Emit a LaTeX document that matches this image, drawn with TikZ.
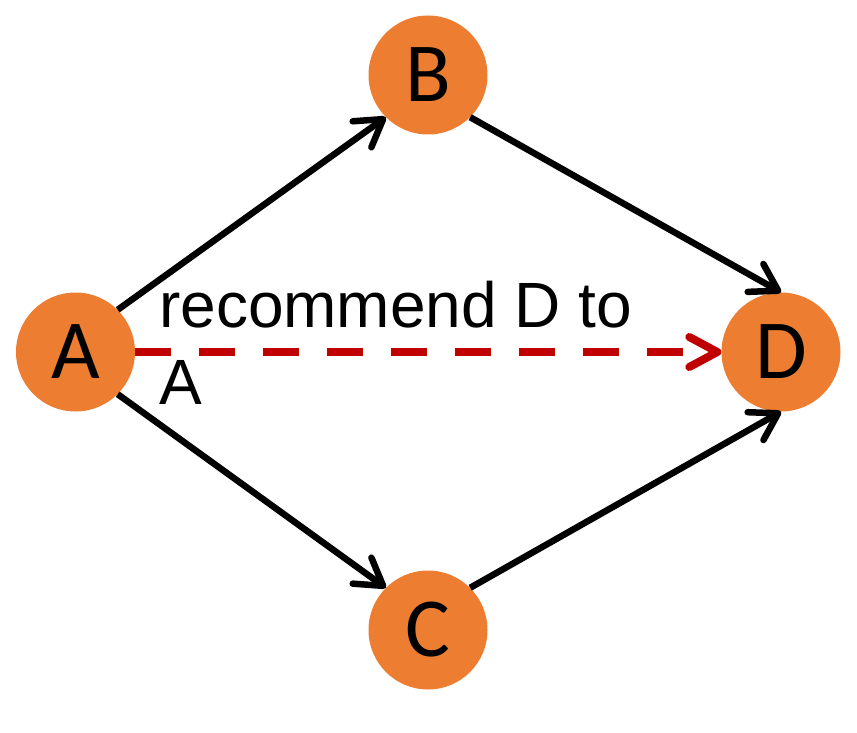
\documentclass[tikz,border=0pt]{standalone}
\usepackage{fontspec}
\setmainfont{Carlito}
\newfontfamily\labfont{Liberation Sans}
\usetikzlibrary{arrows.meta}
\definecolor{nodeorange}{HTML}{ED7D31}
\definecolor{recred}{HTML}{C00000}
\begin{document}
\begin{tikzpicture}[x=1pt,y=-1pt,
  vert/.style={circle, fill=nodeorange, inner sep=0pt, minimum size=119pt, font=\fontsize{84}{100}\selectfont},
  edge/.style={line width=6.5pt, -{Straight Barb[length=26pt,width=32pt,round]}},
  rec/.style={line width=8pt, draw=recred, dash pattern=on 36pt off 28pt, -{Straight Barb[length=28pt,width=30pt,round]}},
  lbl/.style={font=\labfont\fontsize{64}{77}\selectfont, align=left, inner sep=0pt, anchor=north west}]
\useasboundingbox (0,0) rectangle (857,733);
\node[vert] (A) at (75.5,352) {A};
\node[vert] (B) at (428,75) {B};
\node[vert] (C) at (428,630) {C};
\node[vert] (D) at (781,352) {D};
\draw[edge] (A.north east) -- (B.south west);
\draw[edge] (B.south east) -- (D.north);
\draw[edge] (A.south east) -- (C.north west);
\draw[edge] (C.north east) -- (D.south);
\draw[rec] (A.east) -- (D.west);
\node[lbl] (L) at (159,281) {recommend D to\\A};
\end{tikzpicture}
\end{document}
